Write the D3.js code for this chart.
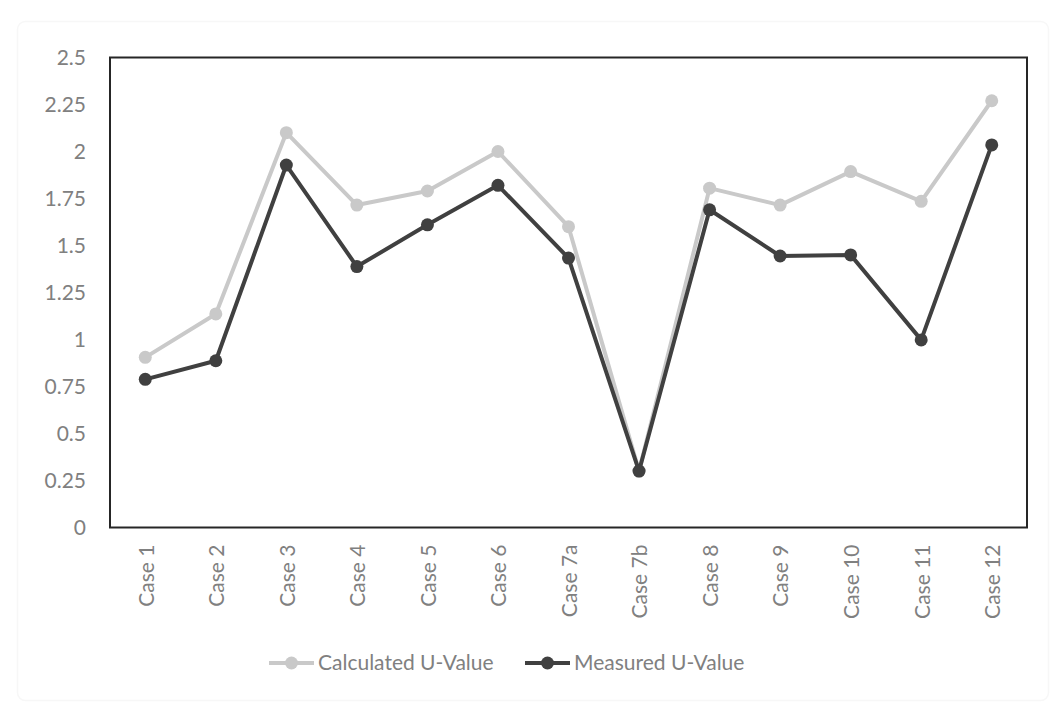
<!DOCTYPE html>
<html><head><meta charset="utf-8">
<script src="https://cdn.jsdelivr.net/npm/d3@7"></script>
<style>
html,body{margin:0;padding:0;background:#fff;}
svg{display:block;font-family:Lato,"Open Sans",sans-serif;}
</style></head>
<body>
<svg id="chart" width="1061" height="709"></svg>
<script>
const categories = ["Case 1","Case 2","Case 3","Case 4","Case 5","Case 6","Case 7a","Case 7b","Case 8","Case 9","Case 10","Case 11","Case 12"];
const calculated = [0.905,1.136,2.10,1.715,1.79,2.00,1.60,0.30,1.805,1.715,1.893,1.735,2.27];
const measured   = [0.788,0.887,1.928,1.388,1.61,1.82,1.433,0.30,1.69,1.444,1.45,0.998,2.035];
const yTicks = [0,0.25,0.5,0.75,1,1.25,1.5,1.75,2,2.25,2.5];
const seriesNames = ["Calculated U-Value","Measured U-Value"];
const seriesColors = ["#c9c9c9","#404040"];

const svg = d3.select("#chart");
const W = 1061, H = 709;
const m = {left:110, right:1027, top:57.5, bottom:527.5};
const fs = "21px";

// faint outer frame
svg.append("rect").attr("x",17.5).attr("y",21.5).attr("width",W-30).attr("height",H-30)
  .attr("rx",8).attr("fill","none").attr("stroke","#f7f7f7").attr("stroke-width",1.5);

const x = d3.scaleBand().domain(categories).range([m.left,m.right]).paddingInner(0).paddingOuter(0);
const y = d3.scaleLinear().domain([0,2.5]).range([m.bottom,m.top]);

// y axis
const yAxis = d3.axisLeft(y).tickValues(yTicks).tickSize(0).tickPadding(24)
  .tickFormat(d=>String(d));
const gy = svg.append("g").attr("transform",`translate(${m.left},0)`).call(yAxis);
gy.select(".domain").remove();
gy.selectAll("text").attr("fill","#808080").style("font-size",fs).style("font-family","Lato,'Open Sans',sans-serif");

// x axis
const xAxis = d3.axisBottom(x).tickSize(0).tickPadding(0);
const gx = svg.append("g").attr("transform",`translate(0,${m.bottom})`).call(xAxis);
gx.select(".domain").remove();
gx.selectAll("text")
  .attr("fill","#808080").style("font-size",fs).style("font-family","Lato,'Open Sans',sans-serif")
  .attr("text-anchor","end").attr("dy","0.35em")
  .attr("transform","translate(1,17) rotate(-90)")
  .attr("x",0).attr("y",0);

// plot border
svg.append("rect").attr("x",m.left).attr("y",m.top).attr("width",m.right-m.left).attr("height",m.bottom-m.top)
  .attr("fill","none").attr("stroke","#262626").attr("stroke-width",2);

const data = [calculated, measured];
const line = d3.line().x((d,i)=>x(categories[i])+x.bandwidth()/2).y(d=>y(d));
data.forEach((vals,si)=>{
  const g = svg.append("g");
  g.append("path").datum(vals).attr("d",line).attr("fill","none")
    .attr("stroke",seriesColors[si]).attr("stroke-width",4).attr("stroke-linejoin","round");
  g.selectAll("circle").data(vals).join("circle")
    .attr("cx",(d,i)=>x(categories[i])+x.bandwidth()/2).attr("cy",d=>y(d))
    .attr("r",6.5).attr("fill",seriesColors[si]);
});

// legend
const legendX = [269,525];
const legendY = 663;
seriesNames.forEach((name,i)=>{
  const g = svg.append("g").attr("transform",`translate(${legendX[i]},${legendY})`);
  g.append("line").attr("x1",0).attr("x2",45).attr("y1",0).attr("y2",0)
    .attr("stroke",seriesColors[i]).attr("stroke-width",4);
  g.append("circle").attr("cx",22.5).attr("cy",0).attr("r",6.5).attr("fill",seriesColors[i]);
  g.append("text").attr("x",49).attr("y",0).attr("dy","0.35em")
    .attr("fill","#808080").style("font-size",fs).text(name);
});
</script>
</body></html>
